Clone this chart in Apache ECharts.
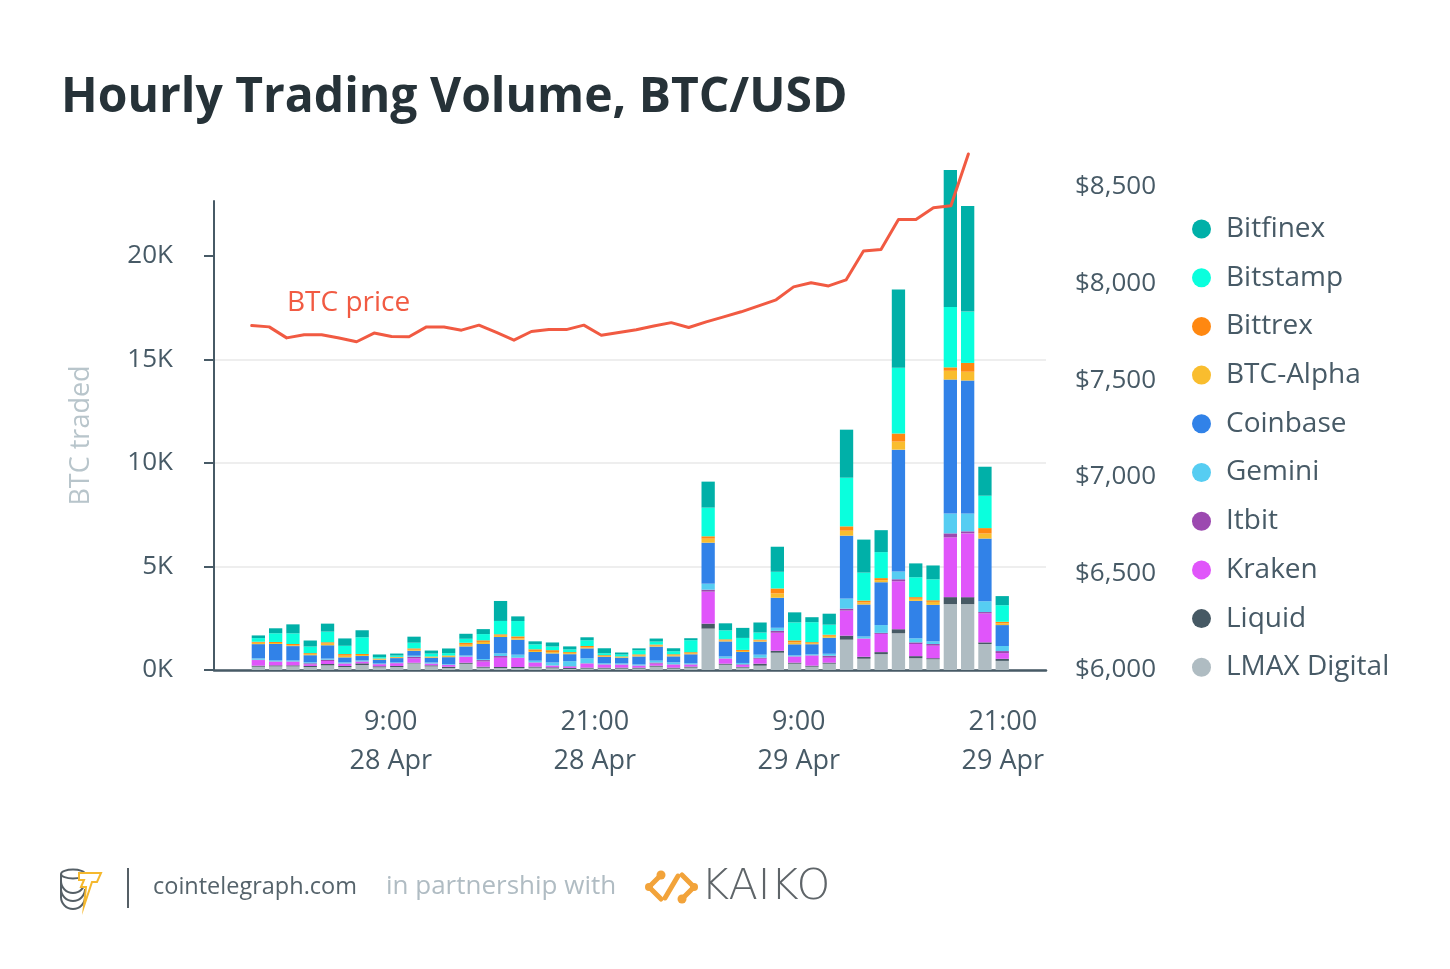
<!DOCTYPE html>
<html>
<head>
<meta charset="utf-8">
<script src="https://cdn.jsdelivr.net/npm/echarts@6/dist/echarts.min.js"></script>
<style>
html,body{margin:0;padding:0;background:#ffffff;}
#c{width:1450px;height:969px;}
</style>
</head>
<body>
<div id="c"></div>
<script>
// ---------- DATA ----------
// hour of each bar, counted from 00:00 28 Apr (1:00 28 Apr ... 20:00 29 Apr)
const barHours = [1,2,3,4,5,6,7,8,9,10,11,12,13,14,15,16,17,18,19,20,21,22,23,24,25,26,27,28,29,30,31,32,33,34,35,36,37,38,39,40,41,42,43,44];

// BTC traded per exchange (stacked from bottom to top)
const lmaxDigital = [160,175,175,145,225,145,240,130,145,320,175,95,300,110,95,95,115,80,50,65,65,65,65,160,65,115,2000,255,115,210,835,305,160,305,1465,545,765,1775,570,520,3180,3180,1255,440];
const liquid      = [50,50,50,50,65,50,80,50,50,30,50,65,50,50,50,50,50,50,50,50,50,50,50,50,50,50,240,50,35,95,95,50,50,50,195,95,100,195,100,50,340,340,80,100];
const kraken      = [270,175,175,80,145,110,80,95,130,210,80,80,290,250,450,435,190,80,60,195,145,145,95,100,145,95,1545,240,95,240,870,290,485,240,1210,870,880,2315,585,605,2885,3080,1400,275];
const itbit       = [15,15,15,50,65,15,15,10,10,80,10,10,10,70,80,15,15,10,25,15,15,10,10,50,15,15,95,15,30,50,95,15,15,95,95,15,50,100,80,80,195,100,65,100];
const gemini      = [65,50,50,50,50,50,50,30,30,50,50,30,50,50,130,145,80,145,240,240,50,50,50,95,95,50,290,95,65,145,145,50,50,95,485,95,375,375,195,130,960,865,520,245];
const coinbase    = [690,790,690,340,645,240,210,180,210,240,225,340,440,725,790,725,420,435,340,480,305,275,385,675,290,435,1980,725,530,630,1450,530,485,775,3040,1545,2070,5885,1810,1760,6470,6420,3030,1010];
const btcAlpha    = [65,50,35,50,80,80,50,30,30,50,30,50,80,100,65,65,50,65,50,50,35,30,50,50,50,50,195,50,50,50,210,95,50,95,240,95,100,390,100,145,425,425,245,80];
const bittrex     = [50,50,65,50,65,80,50,30,30,65,30,30,95,80,65,95,80,95,50,65,50,30,50,50,50,50,115,50,50,50,240,95,50,50,210,95,100,390,80,80,165,425,260,80];
const bitstamp    = [175,420,515,320,515,400,805,65,65,275,145,115,195,300,645,740,240,175,130,275,95,95,195,145,145,580,1385,435,580,340,805,870,965,485,2350,1350,1255,3180,960,1010,2920,2480,1565,800];
const bitfinex    = [130,240,435,290,385,355,340,130,95,290,145,225,240,240,965,225,145,195,145,145,240,95,95,145,145,95,1255,340,485,485,1210,485,240,530,2320,1595,1060,3780,670,670,6620,5100,1400,440];

// BTC price (USD), one point per step of the price line
const priceSteps = [1,2,3,4,5,6,7,8,9,10,11,12,13,14,15,16,17,18,19,20,21,22,23,24,25,26,27,28,29,30,31,32,33,34,35,36,37,38,39,40,41,42];
const btcPrice   = [7783,7776,7719,7735,7735,7718,7699,7744,7726,7725,7776,7775,7759,7785,7747,7707,7752,7762,7762,7785,7733,7747,7761,7781,7798,7773,7802,7828,7854,7885,7916,7983,8004,7988,8019,8169,8177,8332,8332,8393,8403,8671];

// x-axis tick labels (hour from 00:00 28 Apr)
const tickHours  = [9, 21, 33, 45];
const tickLabels = ['9:00\n28 Apr', '21:00\n28 Apr', '9:00\n29 Apr', '21:00\n29 Apr'];
const volumeTicks = [0, 5000, 10000, 15000, 20000];

// series (bottom to top) and legend order (top to bottom)
const stackNames  = ['LMAX Digital','Liquid','Kraken','Itbit','Gemini','Coinbase','BTC-Alpha','Bittrex','Bitstamp','Bitfinex'];
const stackValues = [lmaxDigital, liquid, kraken, itbit, gemini, coinbase, btcAlpha, bittrex, bitstamp, bitfinex];
const stackColors = ['#afbcc2','#465964','#e055fa','#9c49b0','#56cdf2','#3182e8','#f9bd2e','#ff8811','#0affdd','#00b0a8'];
const legendOrder = ['Bitfinex','Bitstamp','Bittrex','BTC-Alpha','Coinbase','Gemini','Itbit','Kraken','Liquid','LMAX Digital'];

// ---------- CHART ----------
const FONT = "'Open Sans', 'Noto Sans', sans-serif";
const TXT = '#475a66';
const VOL_MAX = 22657;
const chart = echarts.init(document.getElementById('c'), null, {renderer: 'canvas'});

const series = stackNames.map((name, i) => ({
  name: name,
  type: 'bar',
  stack: 'volume',
  xAxisIndex: 1,
  yAxisIndex: 2,
  barWidth: 13.3,
  clip: false,
  itemStyle: {color: stackColors[i]},
  emphasis: {disabled: true},
  data: stackValues[i]
}));
series.push({
  name: 'BTC price',
  type: 'line',
  xAxisIndex: 2,
  yAxisIndex: 1,
  symbol: 'none',
  clip: false,
  lineStyle: {color: '#f15a42', width: 3, cap: 'round', join: 'round'},
  emphasis: {disabled: true},
  data: priceSteps.map((s, j) => [s, btcPrice[j]])
});

const option = {
  animation: false,
  backgroundColor: '#ffffff',
  textStyle: {fontFamily: FONT},
  title: {
    text: 'Hourly Trading Volume, BTC/USD',
    left: 56, top: 69,
    textStyle: {fontFamily: FONT, fontSize: 48, fontWeight: 'bold', color: '#263238'}
  },
  legend: {
    data: legendOrder,
    orient: 'vertical',
    left: 1187, top: 209,
    icon: 'circle',
    itemWidth: 19, itemHeight: 19, itemGap: 18.7,
    selectedMode: false,
    textStyle: {fontFamily: FONT, fontSize: 28, color: TXT, lineHeight: 30, padding: [0, 0, 0, 10]}
  },
  grid: [
    {left: 214, right: 404, top: 201, bottom: 299},
    {left: 214, right: 404, top: 187, bottom: 299},
    {left: 249.7, right: 439.1, top: 201, bottom: 299}
  ],
  xAxis: [
    {
      type: 'value', gridIndex: 0, min: -1.4, max: 47.54,
      axisLine: {show: true, onZero: false, lineStyle: {color: TXT, width: 2.5}},
      axisTick: {show: false},
      splitLine: {show: false},
      axisLabel: {
        customValues: tickHours,
        formatter: v => tickLabels[tickHours.indexOf(Math.round(v))] || '',
        color: TXT, fontFamily: FONT, fontSize: 27, lineHeight: 39, margin: 33
      }
    },
    {type: 'category', gridIndex: 2, data: barHours.map(String), boundaryGap: true, show: false},
    {type: 'value', gridIndex: 1, min: -1.157, max: 46.44, show: false}
  ],
  yAxis: [
    {
      type: 'value', gridIndex: 0, position: 'left', min: 0, max: VOL_MAX, interval: 5000,
      name: 'BTC traded', nameLocation: 'middle', nameGap: 119,
      nameTextStyle: {color: '#b8c5cb', fontSize: 27, fontFamily: FONT},
      axisLine: {show: true, onZero: false, lineStyle: {color: TXT, width: 2}},
      axisTick: {show: true, length: 10, customValues: volumeTicks, lineStyle: {color: TXT, width: 2}},
      axisLabel: {customValues: volumeTicks, formatter: v => (v / 1000) + 'K', color: TXT, fontFamily: FONT, fontSize: 26, margin: 41, padding: [5, 0, 0, 0]},
      splitLine: {show: true, showMaxLine: false, lineStyle: {color: '#eeeeee', width: 2}}
    },
    {
      type: 'value', gridIndex: 1, position: 'right', min: 6000, max: 8500, interval: 500,
      axisLine: {show: false}, axisTick: {show: false}, splitLine: {show: false},
      axisLabel: {formatter: v => '$' + v.toLocaleString('en-US'), color: TXT, fontFamily: FONT, fontSize: 26, margin: 29, padding: [5, 0, 0, 0]}
    },
    {type: 'value', gridIndex: 2, min: 0, max: VOL_MAX, show: false}
  ],
  graphic: [
    {type: 'text', style: {x: 287, y: 303, text: 'BTC price', fill: '#f15a42', font: '28px ' + FONT, verticalAlign: 'middle'}},
    // footer: cointelegraph mark
    {type: 'group', children: [
      {type: 'ellipse', shape: {cx: 73, cy: 874, rx: 12, ry: 4.5}, style: {fill: 'none', stroke: '#555f66', lineWidth: 2}},
      {type: 'polyline', shape: {points: [[61, 874], [61, 898]]}, style: {stroke: '#555f66', lineWidth: 2}},
      {type: 'arc', shape: {cx: 73, cy: 881, r: 12, startAngle: 0, endAngle: Math.PI}, style: {fill: 'none', stroke: '#555f66', lineWidth: 2}},
      {type: 'arc', shape: {cx: 73, cy: 889, r: 12, startAngle: 0, endAngle: Math.PI}, style: {fill: 'none', stroke: '#555f66', lineWidth: 2}},
      {type: 'arc', shape: {cx: 73, cy: 897, r: 12, startAngle: 0, endAngle: Math.PI}, style: {fill: 'none', stroke: '#555f66', lineWidth: 2}},
      {type: 'polygon', shape: {points: [[79, 873], [101, 873], [97, 882], [92, 882], [84, 906], [86, 887], [81, 887], [84, 880], [79, 880]]},
        style: {fill: '#ffffff', stroke: '#f5b82e', lineWidth: 2}}
    ]},
    {type: 'line', shape: {x1: 128, y1: 868, x2: 128, y2: 908}, style: {stroke: '#555f66', lineWidth: 2}},
    {type: 'text', style: {x: 153, y: 887, text: 'cointelegraph.com', fill: '#55636b', font: '23.5px ' + FONT, verticalAlign: 'middle'}},
    {type: 'text', style: {x: 386, y: 887, text: 'in partnership with', fill: '#b0bcc3', font: '26px ' + FONT, verticalAlign: 'middle'}},
    // footer: kaiko mark
    {type: 'group', children: [
      {type: 'polyline', shape: {points: [[661, 875], [649, 887], [661, 899]]}, style: {stroke: '#f2a33a', lineWidth: 5, lineCap: 'round', lineJoin: 'round'}},
      {type: 'polyline', shape: {points: [[682, 875], [694, 887], [682, 899]]}, style: {stroke: '#f2a33a', lineWidth: 5, lineCap: 'round', lineJoin: 'round'}},
      {type: 'polyline', shape: {points: [[665, 898], [678, 876]]}, style: {stroke: '#f2a33a', lineWidth: 5, lineCap: 'round'}},
      {type: 'circle', shape: {cx: 661, cy: 875, r: 4.5}, style: {fill: '#f2a33a'}},
      {type: 'circle', shape: {cx: 682, cy: 899, r: 4.5}, style: {fill: '#f2a33a'}},
      {type: 'circle', shape: {cx: 649, cy: 887, r: 4}, style: {fill: '#f2a33a'}},
      {type: 'circle', shape: {cx: 694, cy: 887, r: 4}, style: {fill: '#f2a33a'}}
    ]},
    {type: 'text', style: {x: 701, y: 888, text: 'KAIKO', fill: '#5f6569', font: '200 43px "DejaVu Sans"', verticalAlign: 'middle'}}
  ],
  series: series
};
chart.setOption(option);
</script>
</body>
</html>
